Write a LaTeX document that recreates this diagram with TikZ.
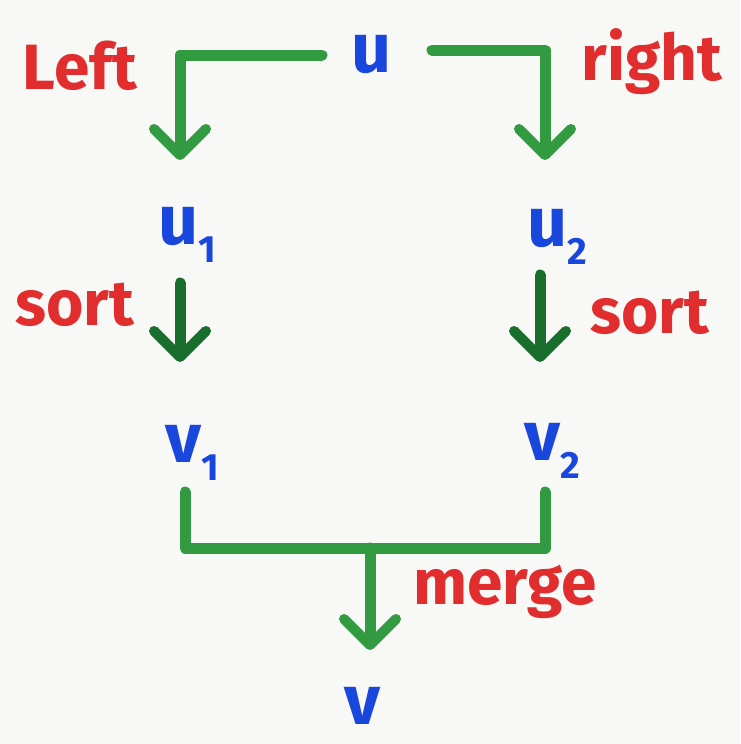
\documentclass[tikz,border=0pt]{standalone}
\usepackage{fontspec}
\setsansfont{Fira Sans}
\usetikzlibrary{arrows.meta}
\definecolor{inkblue}{RGB}{25,70,220}
\definecolor{inkred}{RGB}{225,45,45}
\definecolor{inkgreen}{RGB}{50,155,65}
\definecolor{inkdkgreen}{RGB}{25,110,45}
\definecolor{paper}{RGB}{248,248,246}
\newcommand\subidx[1]{\raisebox{-0.5ex}{\fontsize{38}{38}\selectfont #1}}
\tikzset{
  varlbl/.style={text=inkblue,font=\sffamily\bfseries\fontsize{70}{70}\selectfont,inner sep=0pt,anchor=base},
  oplbl/.style={text=inkred,font=\sffamily\bfseries\fontsize{64}{64}\selectfont,inner sep=0pt},
  conn/.style={draw=inkgreen,line width=11pt,line cap=round,line join=round,
    -{Straight Barb[length=26pt,width=52pt,line width=10pt,round]}},
  plain/.style={draw=inkgreen,line width=11pt,line cap=round,line join=round},
  sortconn/.style={conn,draw=inkdkgreen},
}
\begin{document}
\begin{tikzpicture}[x=1pt,y=-1pt]
\fill[paper] (0,0) rectangle (740,744);
\useasboundingbox (0,0) rectangle (740,744);
% variables
\node[varlbl] (u) at (372,72) {u};
\node[varlbl] (u1) at (187,244) {u\subidx{1}};
\node[varlbl] (u2) at (557,246) {u\subidx{2}};
\node[varlbl] (v1) at (192,462) {v\subidx{1}};
\node[varlbl] (v2) at (552,460) {v\subidx{2}};
\node[varlbl] (v) at (362,724) {v};
% operation labels
\node[oplbl] (left) at (80,66) {Left};
\node[oplbl] (right) at (652,62) {right};
\node[oplbl] (sortl) at (75,305) {sort};
\node[oplbl] (sortr) at (650,313) {sort};
\node[oplbl] (merge) at (505,592) {merge};
% coordinates for connector ends
\coordinate (uw) at (322,55);
\coordinate (ue) at (432,50);
\coordinate (a1) at (180,160);
\coordinate (a2) at (545,160);
\coordinate (s1a) at (180,283);
\coordinate (s1b) at (180,362);
\coordinate (s2a) at (540,275);
\coordinate (s2b) at (540,362);
\coordinate (m1) at (185,492);
\coordinate (m2) at (545,492);
\coordinate (mj) at (370,548);
\coordinate (mv) at (370,650);
% connectors
\draw[conn] (uw) -| (a1);
\draw[conn] (ue) -| (a2);
\draw[sortconn] (s1a) -- (s1b);
\draw[sortconn] (s2a) -- (s2b);
\draw[plain] (m1) |- (mj) -| (m2);
\draw[conn] (mj) -- (mv);
\end{tikzpicture}
\end{document}
